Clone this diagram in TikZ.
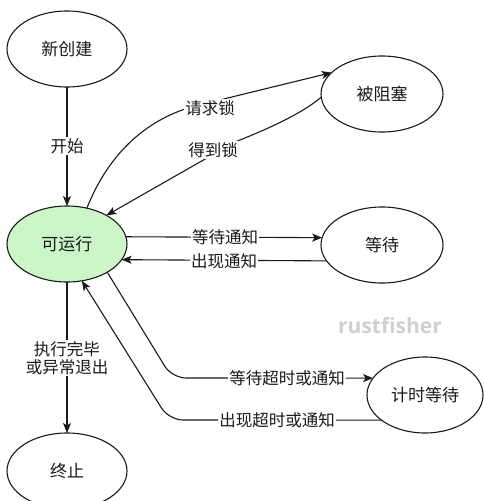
\documentclass[tikz,border=0pt]{standalone}
\usepackage{fontspec}
\setmainfont{Noto Sans CJK SC}
\newfontfamily\wmfont{Open Sans}
\usetikzlibrary{shapes.geometric,arrows.meta}
\definecolor{rungreen}{HTML}{CCF5C8}
\definecolor{ink}{HTML}{1A1A1A}
\definecolor{wmgray}{HTML}{D0D0D0}
\begin{document}
\begin{tikzpicture}[x=1pt,y=-1pt,
  state/.style={ellipse,draw=ink,line width=1.1pt,minimum width=120pt,minimum height=76pt,
    inner sep=0pt,outer sep=0pt,font=\fontsize{17}{20}\selectfont,text=ink},
  lbl/.style={fill=white,inner sep=1pt,font=\fontsize{16.5}{19}\selectfont,text=ink,align=center},
  arr/.style={draw=ink,line width=1.1pt,-{Stealth[length=10pt,width=8pt,inset=2.5pt]}},
  ln/.style={draw=ink,line width=1.1pt}]
\useasboundingbox (0,0) rectangle (484,501);
\fill[white] (0,0) rectangle (484,501);

% states
\node[state] (new) at (67,49) {新创建};
\node[state,fill=rungreen] (run) at (67,244) {可运行};
\node[state,minimum width=122pt] (blocked) at (382,94) {被阻塞};
\node[state,minimum width=122pt] (wait) at (382,245) {等待};
\node[state,minimum width=116pt] (timed) at (425,395) {计时等待};
\node[state] (term) at (67,471) {终止};

% watermark
\node[text=wmgray,font=\wmfont\bfseries\fontsize{21}{25}\selectfont] (wm) at (390,326) {rustfisher};

% start
\draw[arr] (new) -- (run);
\node[lbl] (lstart) at (67,146) {开始};

% request lock
\draw[arr] (run.61) .. controls (110,150) and (150,118) .. (195,106) -- (blocked.157);
\node[lbl] (lreq) at (210,108) {请求锁};

% get lock
\draw[arr] (blocked.183) .. controls (300,115) and (265,130) .. (235,142) -- (run.36);
\node[lbl] (lget) at (213,150) {得到锁};

% wait notify
\draw[arr] (run.7) -- (wait.173);
\node[lbl] (lwait) at (225,237) {等待通知};
\draw[arr] (wait.196) -- (run.-16);
\node[lbl] (lnotify) at (224,261) {出现通知};

% timed
\draw[arr,rounded corners=14pt] (run.-35) -- (172,378) -- (timed.162);
\node[lbl] (ltw) at (287,378) {等待超时或通知};
\draw[arr,rounded corners=14pt] (timed.210) -- (169,420) -- (run.-68);
\node[lbl] (lto) at (277,420) {出现超时或通知};

% terminate
\draw[arr] (run) -- (term);
\node[lbl,font=\fontsize{16.5}{18.5}\selectfont] (lend) at (67,358) {执行完毕\\或异常退出};
\end{tikzpicture}
\end{document}
